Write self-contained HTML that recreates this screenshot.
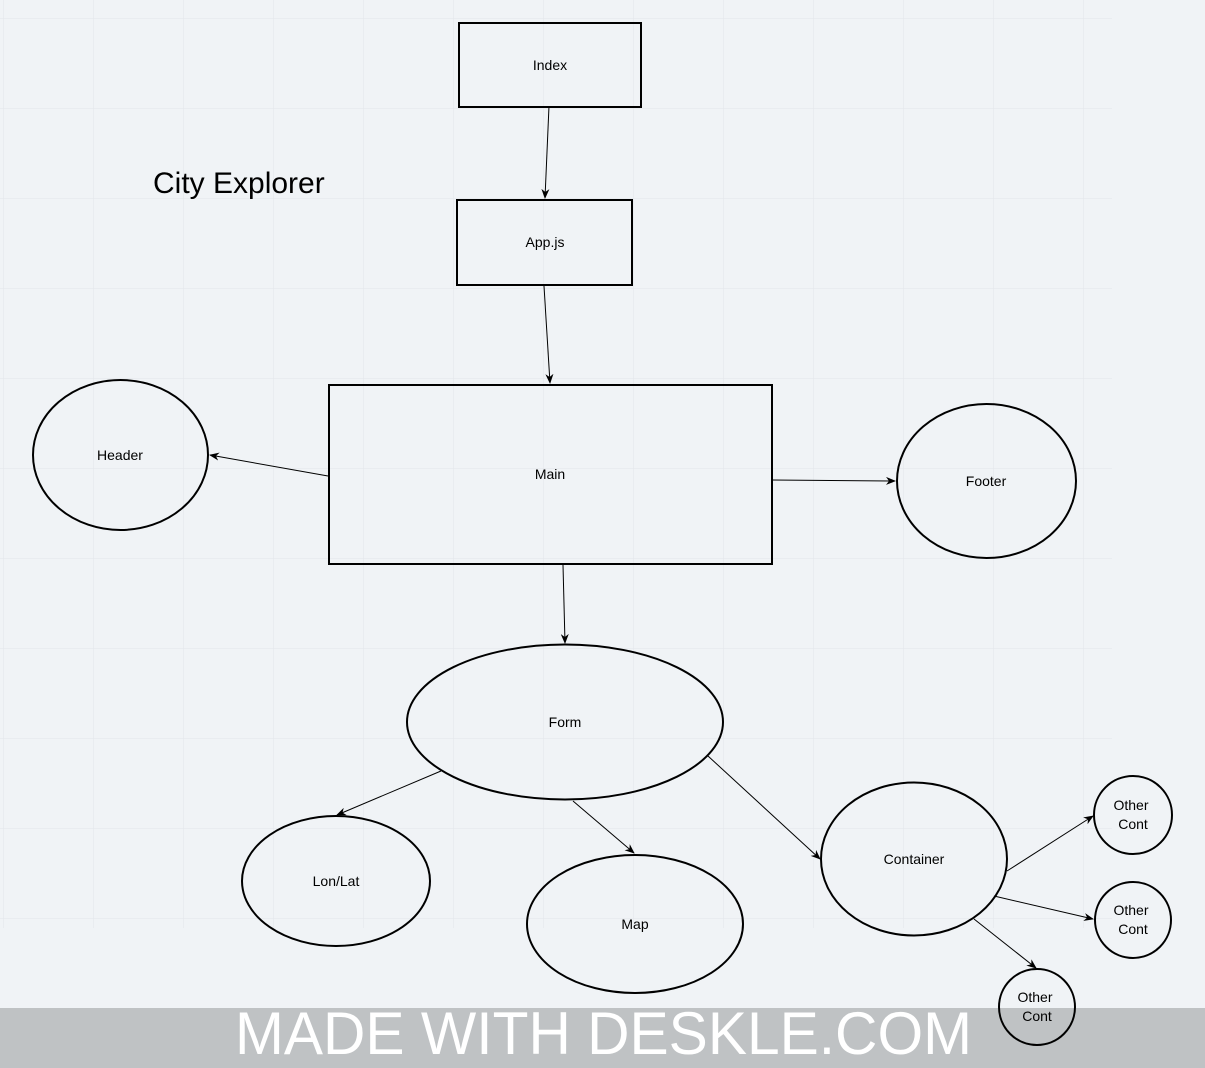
<!DOCTYPE html>
<html><head><style>
html,body{margin:0;padding:0;background:#f0f3f6;}
svg{display:block;font-family:"Liberation Sans",sans-serif;}
</style></head><body>
<svg width="1205" height="1068" viewBox="0 0 1205 1068" xmlns="http://www.w3.org/2000/svg">
<defs>
<pattern id="g" x="3" y="18" width="90" height="90" patternUnits="userSpaceOnUse">
<path d="M0 0H90M0 0V90" stroke="#e2e6ea" stroke-width="1" fill="none"/>
</pattern>
<marker id="a" markerWidth="10" markerHeight="8" refX="9" refY="4" orient="auto" markerUnits="userSpaceOnUse">
<path d="M0 0L10 4L0 8L3 4Z" fill="#000"/>
</marker>
</defs>
<rect width="1205" height="1068" fill="#f0f3f6"/>
<rect x="0" y="0" width="1112" height="928" fill="url(#g)"/>
<rect x="0" y="1008" width="1205" height="60" fill="#bfc2c4"/>
<text x="235" y="1054" font-size="60" fill="#fff" textLength="737" lengthAdjust="spacingAndGlyphs">MADE WITH DESKLE.COM</text>
<g fill="none" stroke="#000" stroke-width="2">
<rect x="459" y="23" width="182" height="84"/>
<rect x="457" y="200" width="175" height="85"/>
<rect x="329" y="385" width="443" height="179"/>
<ellipse cx="120.5" cy="455" rx="87.5" ry="75"/>
<ellipse cx="986.5" cy="481" rx="89.5" ry="77"/>
<ellipse cx="565" cy="722" rx="158" ry="77.5"/>
<ellipse cx="336" cy="881" rx="94" ry="65"/>
<ellipse cx="635" cy="924" rx="108" ry="69"/>
<ellipse cx="914" cy="859" rx="93" ry="76.5"/>
<circle cx="1133" cy="815" r="39"/>
<circle cx="1133" cy="920" r="38"/>
<circle cx="1037" cy="1007" r="38"/>
</g>
<g stroke="#000" stroke-width="1" marker-end="url(#a)">
<line x1="549" y1="106" x2="545" y2="198"/>
<line x1="544" y1="286" x2="550" y2="383"/>
<line x1="328" y1="476" x2="210" y2="455"/>
<line x1="772" y1="480" x2="895" y2="481"/>
<line x1="563" y1="565" x2="565" y2="643"/>
<line x1="441" y1="771" x2="337" y2="815"/>
<line x1="573" y1="801" x2="634" y2="853"/>
<line x1="708" y1="756" x2="820" y2="859"/>
<line x1="1007" y1="871" x2="1093" y2="816"/>
<line x1="994" y1="896" x2="1093" y2="919"/>
<line x1="974" y1="919" x2="1036" y2="968"/>
</g>
<g font-size="14" fill="#000" text-anchor="middle">
<text x="550" y="70">Index</text>
<text x="545" y="247">App.js</text>
<text x="550" y="479">Main</text>
<text x="120" y="460">Header</text>
<text x="986" y="486">Footer</text>
<text x="565" y="727">Form</text>
<text x="336" y="886">Lon/Lat</text>
<text x="635" y="929">Map</text>
<text x="914" y="864">Container</text>
<text x="1131" y="810">Other</text><text x="1133" y="829">Cont</text>
<text x="1131" y="915">Other</text><text x="1133" y="934">Cont</text>
<text x="1035" y="1002">Other</text><text x="1037" y="1021">Cont</text>
</g>
<text x="153" y="193" font-size="30" fill="#000">City Explorer</text>
</svg>
</body></html>
